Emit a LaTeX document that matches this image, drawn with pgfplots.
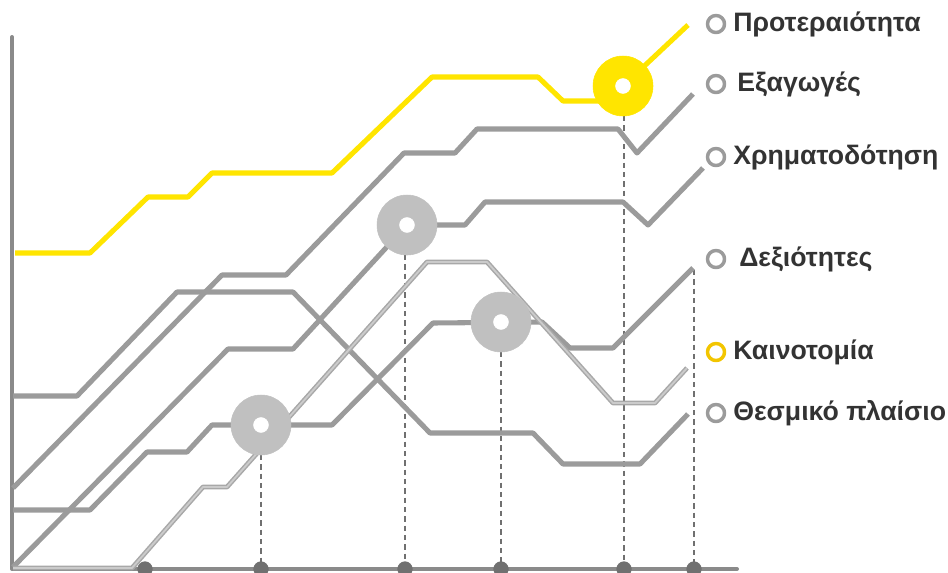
\documentclass[border=0pt]{standalone}
\usepackage{pgfplots}
\pgfplotsset{compat=1.18}
\usepackage{fontspec}
\setmainfont{Liberation Sans}
\definecolor{yl}{HTML}{FFE500}
\definecolor{gl}{HTML}{9B9B9B}
\definecolor{lc}{HTML}{C0C0C0}
\definecolor{ax}{HTML}{8A8A8A}
\definecolor{dk}{HTML}{707070}
\definecolor{tx}{HTML}{333333}
\definecolor{ly}{HTML}{F2C500}
\definecolor{dl}{HTML}{A8A8A8}
\definecolor{di}{HTML}{CBCBCB}
\begin{document}
\begin{tikzpicture}
\begin{axis}[scale only axis, width=711pt, height=429pt,
  xmin=0, xmax=948, ymin=0, ymax=572, y dir=reverse,
  hide axis, clip=true, line join=round]
% axes
\addplot[ax, line width=3pt, line cap=round] coordinates {(12,37) (12,569) (737,569)};
% dashed guides
\addplot[dk, line width=0.9pt, dash pattern=on 4pt off 3pt] coordinates {(261,455) (261,569)};
\addplot[dk, line width=0.9pt, dash pattern=on 4pt off 3pt] coordinates {(405,255) (405,569)};
\addplot[dk, line width=0.9pt, dash pattern=on 4pt off 3pt] coordinates {(501,352) (501,569)};
\addplot[dk, line width=0.9pt, dash pattern=on 4pt off 3pt] coordinates {(624,116) (624,569)};
\addplot[dk, line width=0.9pt, dash pattern=on 4pt off 3pt] coordinates {(694,270) (694,569)};
% gray lines
\addplot[gl, line width=3.8pt] coordinates {(13,396) (77,396) (177,292) (293,292) (430,433) (533,433) (563,464) (640,464) (688,414)};
\addplot[gl, line width=3.8pt] coordinates {(13,488) (222,275) (286,275) (404,153) (455,153) (477,129) (618,129) (637,153) (693,94)};
\addplot[gl, line width=3.8pt] coordinates {(13,567) (228,349) (293,349) (407,225) (465,225) (485,202) (623,202) (648,225) (703,168)};
\addplot[gl, line width=3.8pt] coordinates {(13,510) (90,510) (147,452) (187,452) (212,425) (332,425) (433,323) (542,322) (570,348) (613,348) (693,268)};
% yellow line
\addplot[yl, line width=3.8pt] coordinates {(15,253) (90,253) (148,197) (188,197) (212,173) (332,173) (432,77) (538,77) (563,101) (608,101) (623,86) (688,25)};
% circles below the double line
\addplot[lc, only marks, mark=*, mark size=22.5pt, mark options={fill=lc, draw=lc}] coordinates {(407,225) (501,322)};
% double line
\addplot[dl, line width=3.6pt] coordinates {(13,568) (132,568) (203,487) (227,487) (427,262) (487,262) (613,403) (655,403) (687,368)};
\addplot[di, line width=1.4pt] coordinates {(13,568) (132,568) (203,487) (227,487) (427,262) (487,262) (613,403) (655,403) (687,368)};
\addplot[lc, only marks, mark=*, mark size=22.5pt, mark options={fill=lc, draw=lc}] coordinates {(261,425)};
\addplot[yl, only marks, mark=*, mark size=22.5pt, mark options={fill=yl, draw=yl}] coordinates {(623,86)};
\addplot[white, only marks, mark=*, mark size=5.6pt, mark options={fill=white, draw=white}] coordinates {(407,225) (261,425) (501,322) (623,86)};
% bottom dots
\addplot[dk, only marks, mark=*, mark size=5.5pt, mark options={fill=dk, draw=dk}] coordinates {(145,569) (261,569) (405,569) (501,569) (624,569) (694,569)};
% legend rings
\addplot[gl, only marks, mark=o, mark size=6.4pt, mark options={line width=2.6pt, draw=gl}] coordinates {(716,24) (716,84) (716,157) (716,259) (716,413)};
\addplot[ly, only marks, mark=o, mark size=6.4pt, mark options={line width=2.6pt, draw=ly}] coordinates {(716,352)};
\begin{scope}[every node/.style={anchor=west, text=tx, font=\bfseries\fontsize{20}{24}\selectfont, inner sep=0pt}]
\node at (axis cs:733,24) {Προτεραιότητα};
\node at (axis cs:737,84) {Εξαγωγές};
\node at (axis cs:733,157) {Χρηματοδότηση};
\node at (axis cs:739,259) {Δεξιότητες};
\node at (axis cs:733,352) {Καινοτομία};
\node at (axis cs:733,413) {Θεσμικό πλαίσιο};
\end{scope}
\end{axis}
\pgfresetboundingbox
\useasboundingbox (current axis.south west) rectangle (current axis.north east);
\end{tikzpicture}
\end{document}
